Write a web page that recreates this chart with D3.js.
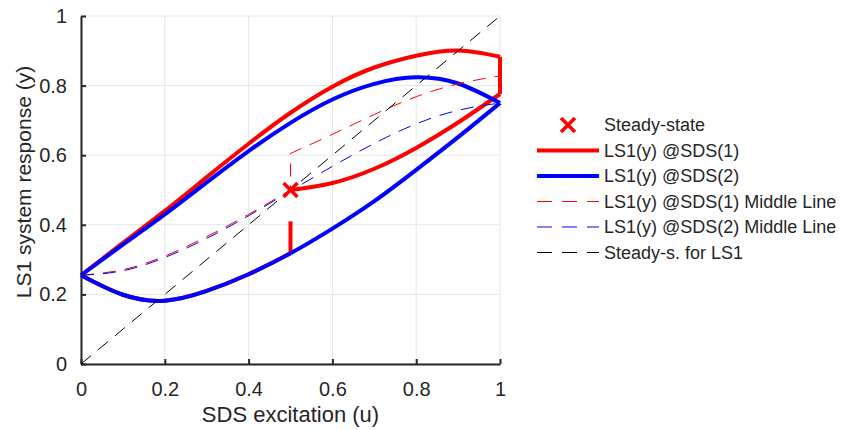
<!DOCTYPE html>
<html>
<head>
<meta charset="utf-8">
<script src="https://cdn.jsdelivr.net/npm/d3@7"></script>
<style>
  html, body { margin: 0; padding: 0; background: #fff; }
  text { font-family: "Liberation Sans", Arial, Helvetica, sans-serif; fill: #262626; }
</style>
</head>
<body>
<svg id="chart" width="845" height="430"></svg>
<script>
// ---- data ----
const xTicks = [0, 0.2, 0.4, 0.6, 0.8, 1];
const yTicks = [0, 0.2, 0.4, 0.6, 0.8, 1];
const tickLabels = ["0", "0.2", "0.4", "0.6", "0.8", "1"];

// LS1(y) @SDS(1) - thick red
const redUpperU = [0, 0.1, 0.2, 0.3, 0.4, 0.5, 0.6, 0.7, 0.8, 0.9, 1];
const redUpperY = [0.255, 0.348, 0.44, 0.537, 0.633, 0.722, 0.797, 0.852, 0.886, 0.901, 0.883];
const redDropU = [1, 1];
const redDropY = [0.883, 0.776];
const redReturnU = [0.5, 0.6, 0.7, 0.8, 0.9, 1];
const redReturnY = [0.5, 0.52, 0.561, 0.621, 0.694, 0.776];
const redLowerU = [0, 0.1, 0.2, 0.3, 0.4, 0.5];
const redLowerY = [0.255, 0.199, 0.182, 0.21, 0.258, 0.318];
const redJumpU = [0.5, 0.5];
const redJumpY = [0.318, 0.41];

// LS1(y) @SDS(2) - thick blue
const blueUpperU = [0, 0.1, 0.2, 0.3, 0.4, 0.5, 0.6, 0.7, 0.8, 0.9, 1];
const blueUpperY = [0.255, 0.343, 0.43, 0.522, 0.612, 0.693, 0.76, 0.805, 0.824, 0.806, 0.75];
const blueLowerU = [0, 0.1, 0.2, 0.3, 0.4, 0.5, 0.6, 0.7, 0.8, 0.9, 1];
const blueLowerY = [0.255, 0.199, 0.182, 0.21, 0.258, 0.318, 0.389, 0.468, 0.558, 0.652, 0.75];

// Middle lines - thin dashed (red one jumps at u = 0.5)
const redMidLowU = [0, 0.1, 0.2, 0.3, 0.4, 0.5];
const redMidLowY = [0.255, 0.271, 0.31, 0.366, 0.43, 0.5];
const redMidHighU = [0.5, 0.6, 0.7, 0.8, 0.9, 1];
const redMidHighY = [0.605, 0.66, 0.717, 0.768, 0.805, 0.828];
const blueMidU = [0, 0.1, 0.2, 0.3, 0.4, 0.5, 0.6, 0.7, 0.8, 0.9, 1];
const blueMidY = [0.255, 0.268, 0.306, 0.361, 0.426, 0.497, 0.568, 0.634, 0.69, 0.729, 0.75];

// Steady-state diagonal and marker
const steadyU = [0, 1];
const steadyY = [0, 1];
const markerU = [0.5];
const markerY = [0.5];

const legendLabels = ["Steady-state", "LS1(y) @SDS(1)", "LS1(y) @SDS(2)",
  "LS1(y) @SDS(1) Middle Line", "LS1(y) @SDS(2) Middle Line", "Steady-s. for LS1"];

// ---- drawing ----
const svg = d3.select("#chart");
const x = d3.scaleLinear().domain([0, 1]).range([81, 500]);
const y = d3.scaleLinear().domain([0, 1]).range([364, 16]);
const axisColor = "#262626";

const zip = (us, ys) => us.map((u, i) => [u, ys[i]]);

// grid
const grid = svg.append("g");
grid.selectAll("line.gx").data(xTicks).join("line")
  .attr("x1", d => x(d)).attr("x2", d => x(d))
  .attr("y1", y(0)).attr("y2", y(1))
  .attr("stroke", "#e6e6e6").attr("stroke-width", 1);
grid.selectAll("line.gy").data(yTicks).join("line")
  .attr("y1", d => y(d)).attr("y2", d => y(d))
  .attr("x1", x(0)).attr("x2", x(1))
  .attr("stroke", "#e6e6e6").attr("stroke-width", 1);

// axes
const xAxis = d3.axisBottom(x).tickValues(xTicks).tickFormat((d, i) => tickLabels[i])
  .tickSizeInner(-5).tickSizeOuter(0).tickPadding(18);
const yAxis = d3.axisLeft(y).tickValues(yTicks).tickFormat((d, i) => tickLabels[i])
  .tickSizeInner(-5).tickSizeOuter(0).tickPadding(14);

const gx = svg.append("g").attr("transform", `translate(0,${y(0)})`).call(xAxis);
const gy = svg.append("g").attr("transform", `translate(${x(0)},0)`).call(yAxis);
[gx, gy].forEach(g => {
  g.select(".domain").attr("stroke", axisColor).attr("stroke-width", 2);
  g.selectAll(".tick line").attr("stroke", axisColor).attr("stroke-width", 2);
  g.selectAll(".tick text").attr("fill", axisColor)
    .style("font-family", '"Liberation Sans", Arial, sans-serif').style("font-size", "20px");
});

// lines
const line = d3.line().x(d => x(d[0])).y(d => y(d[1]));
const smooth = d3.line().x(d => x(d[0])).y(d => y(d[1])).curve(d3.curveNatural);

const plot = svg.append("g").attr("fill", "none").attr("stroke-linejoin", "round");

function thick(data, color, curved) {
  plot.append("path").datum(data).attr("d", curved ? smooth : line)
    .attr("stroke", color).attr("stroke-width", 4).attr("stroke-linecap", "butt");
}
thick(zip(redLowerU, redLowerY), "#ff0000", true);
thick(zip(redJumpU, redJumpY), "#ff0000", false);
thick(zip(redUpperU, redUpperY), "#ff0000", true);
thick(zip(redDropU, redDropY), "#ff0000", false);
thick(zip(redReturnU, redReturnY), "#ff0000", true);
thick(zip(blueUpperU, blueUpperY), "#0000ff", true);
thick(zip(blueLowerU, blueLowerY), "#0000ff", true);

// red middle line: lower part, vertical jump, upper part as one dashed path
const redMidPath = smooth(zip(redMidLowU, redMidLowY)) +
  smooth(zip(redMidHighU, redMidHighY)).replace(/^M/, "L");
plot.append("path").attr("d", redMidPath)
  .attr("stroke", "#ff0000").attr("stroke-width", 1).attr("stroke-dasharray", "13,9");
plot.append("path").datum(zip(blueMidU, blueMidY)).attr("d", smooth)
  .attr("stroke", "#0000ff").attr("stroke-width", 1).attr("stroke-dasharray", "13,9");
plot.append("path").datum(zip(steadyU, steadyY)).attr("d", line)
  .attr("stroke", "#000000").attr("stroke-width", 1).attr("stroke-dasharray", "13,9");

// marker
function xMark(g, cx, cy) {
  const s = 7;
  g.append("path").attr("d", `M${cx - s},${cy - s}L${cx + s},${cy + s}M${cx - s},${cy + s}L${cx + s},${cy - s}`)
    .attr("stroke", "#ff0000").attr("stroke-width", 3.5).attr("fill", "none");
}
markerU.forEach((u, i) => xMark(svg, x(u), y(markerY[i])));

// axis labels
svg.append("text").attr("x", (x(0) + x(1)) / 2).attr("y", 422)
  .attr("text-anchor", "middle").style("font-size", "22px").text("SDS excitation (u)");
svg.append("text").attr("transform", `translate(31,${(y(0) + y(1)) / 2 - 8}) rotate(-90)`)
  .attr("text-anchor", "middle").style("font-size", "21px").text("LS1 system response (y)");

// legend
const leg = svg.append("g");
const rowY = i => 125 + i * 25.5;
const lx0 = 537, lx1 = 599, tx = 604;
legendLabels.forEach((lab, i) => {
  leg.append("text").attr("x", tx).attr("y", rowY(i)).attr("dy", "0.35em")
    .style("font-size", "18px").text(lab);
});
xMark(leg, 568, rowY(0));
const legStyles = [
  null,
  { c: "#ff0000", w: 4, d: null },
  { c: "#0000ff", w: 4, d: null },
  { c: "#ff0000", w: 1, d: "15,10" },
  { c: "#0000ff", w: 1, d: "15,10" },
  { c: "#000000", w: 1, d: "15,10" }
];
legStyles.forEach((s, i) => {
  if (!s) return;
  const l = leg.append("line").attr("x1", lx0).attr("x2", lx1)
    .attr("y1", rowY(i)).attr("y2", rowY(i))
    .attr("stroke", s.c).attr("stroke-width", s.w);
  if (s.d) l.attr("stroke-dasharray", s.d);
});
</script>
</body>
</html>
